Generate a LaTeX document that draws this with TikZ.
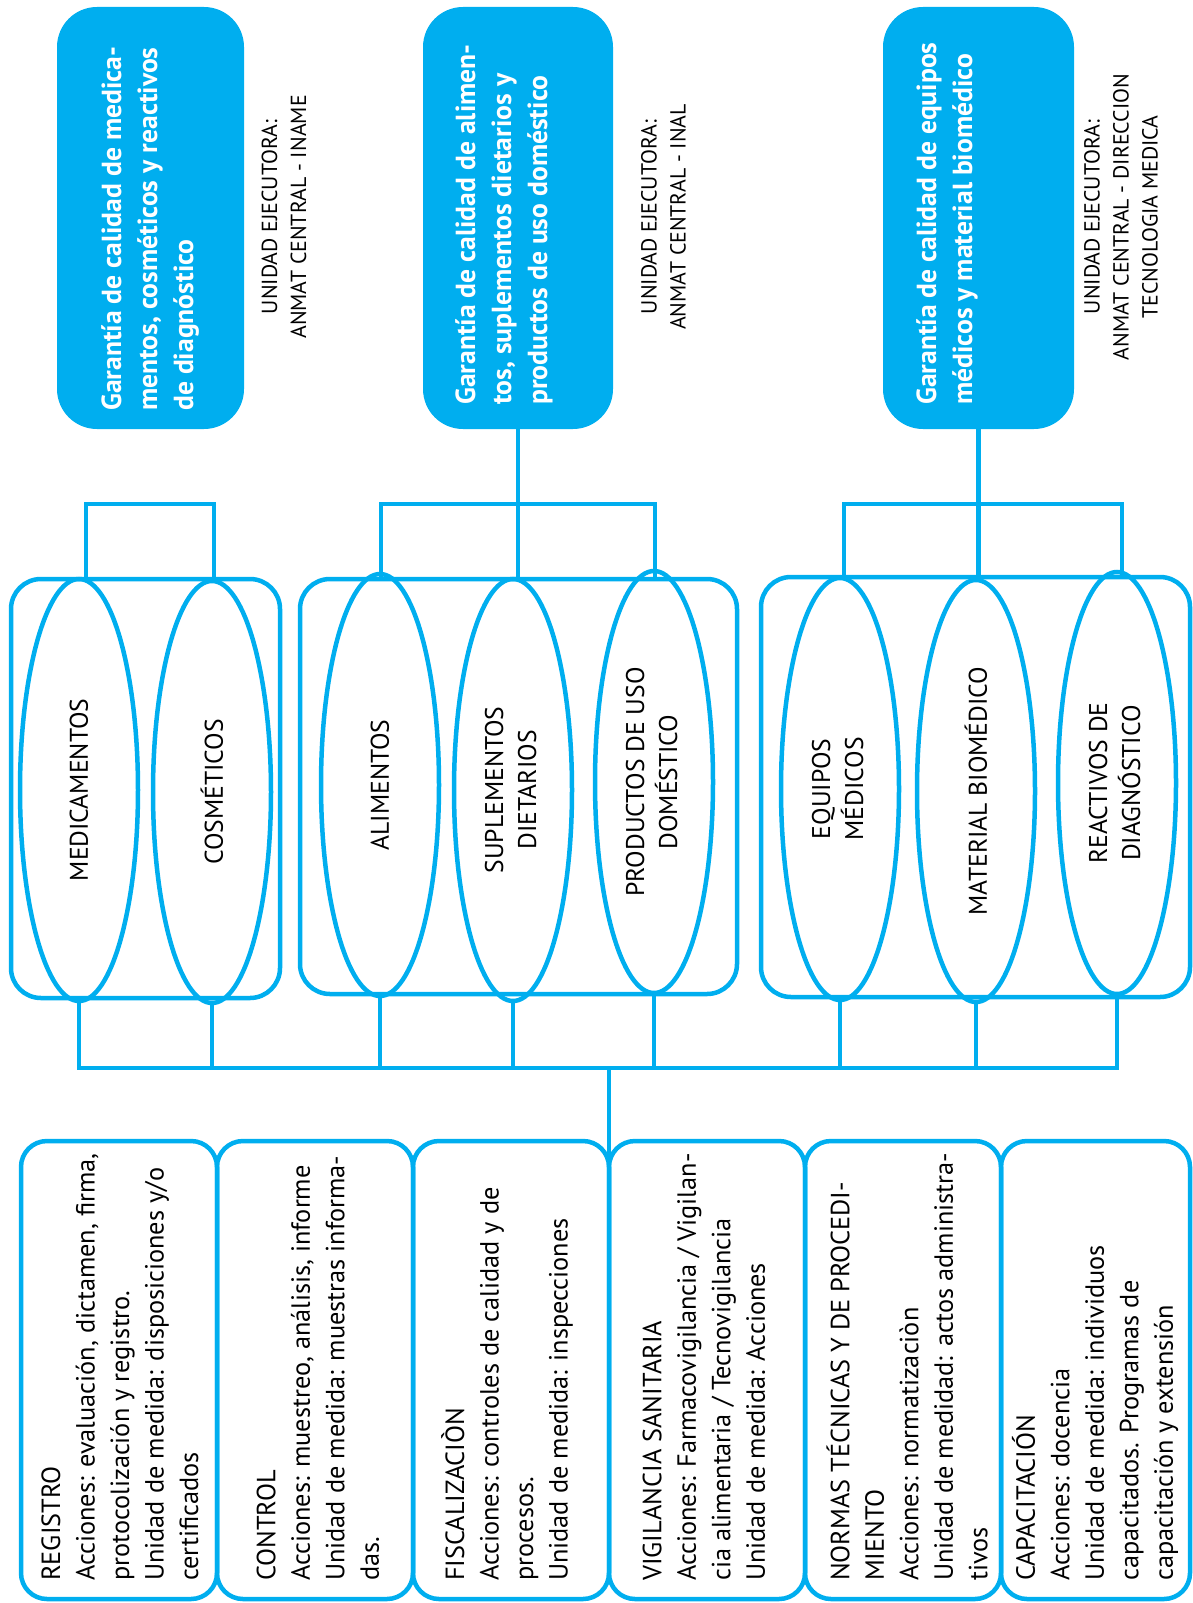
\documentclass[tikz,border=0pt]{standalone}
\usepackage{fontspec}
\setmainfont{PT Sans}
\usetikzlibrary{shapes.geometric,calc}
\definecolor{cy}{RGB}{0,174,239}
\newcommand\btfont{\fontsize{26.3}{34.5}\selectfont}
\newcommand\elfont{\fontsize{25.6}{33}\selectfont}
\newcommand\ttfont{\bfseries\fontsize{27.6}{36}\selectfont}
\newcommand\unfont{\fontsize{21.8}{29}\selectfont}
\begin{document}
\begin{tikzpicture}[x=1pt,y=-1pt,
  ln/.style={draw=cy, line width=4.5pt},
  topbox/.style={fill=cy, draw=none, rounded corners=40pt, minimum height=422pt, inner sep=0pt, outer sep=0pt},
  grp/.style={draw=cy, line width=4.5pt, rounded corners=30pt, inner sep=0pt, outer sep=0pt},
  ell/.style={ellipse, draw=cy, line width=4.5pt, minimum width=118pt, minimum height=422pt, inner sep=0pt, outer sep=0pt, font=\elfont},
  botbox/.style={draw=cy, line width=4.5pt, rounded corners=26pt, minimum height=458pt, inner sep=0pt, outer sep=0pt},
  bottxt/.style={rotate=90, anchor=west, align=left, inner sep=0pt, font=\btfont},
  title/.style={rotate=90, anchor=north west, align=left, inner sep=0pt, text=white, font=\ttfont},
  unit/.style={rotate=90, align=center, inner sep=0pt, font=\unfont}
]
\useasboundingbox (0,0) rectangle (1193,1603);

% top boxes
\node[topbox, minimum width=187pt] (bx1) at (150.5,218) {};
\node[topbox, minimum width=190pt] (bx2) at (518,218) {};
\node[topbox, minimum width=191pt] (bx3) at (978.5,218) {};
\node[title] (tt1) at (101,411) {Garantía de calidad de medica-\\mentos, cosméticos y reactivos\\de diagnóstico};
\node[title] (tt2) at (455,405) {Garantía de calidad de alimen-\\tos, suplementos dietarios y\\productos de uso doméstico};
\node[title] (tt3) at (916,405) {Garantía de calidad de equipos\\médicos y material biomédico};
\node[unit] (u1) at (284,217) {UNIDAD EJECUTORA:\\ANMAT CENTRAL - INAME};
\node[unit] (u2) at (663.5,217) {UNIDAD EJECUTORA:\\ANMAT CENTRAL - INAL};
\node[unit] (u3) at (1121,217) {UNIDAD EJECUTORA:\\ANMAT CENTRAL - DIRECCION\\TECNOLOGIA MEDICA};

% groups
\node[grp, minimum width=269pt, minimum height=419pt] (g1) at (145.5,788.5) {};
\node[grp, minimum width=437pt, minimum height=415pt] (g2) at (518.5,786.5) {};
\node[grp, minimum width=429pt, minimum height=420pt] (g3) at (975.5,787) {};

% ellipses
\node[ell] (med) at (79,790) {\rotatebox{90}{MEDICAMENTOS}};
\node[ell] (cos) at (212,792) {\rotatebox{90}{COSMÉTICOS}};
\node[ell] (ali) at (380,785) {\rotatebox{90}{ALIMENTOS}};
\node[ell] (sup) at (513,790) {\rotatebox{90}{\begin{tabular}{@{}c@{}}SUPLEMENTOS\\DIETARIOS\end{tabular}}};
\node[ell] (prod) at (654,782) {\rotatebox{90}{\begin{tabular}{@{}c@{}}PRODUCTOS DE USO\\DOMÉSTICO\end{tabular}}};
\node[ell] (eq) at (840,789) {\rotatebox{90}{\begin{tabular}{@{}c@{}}EQUIPOS\\MÉDICOS\end{tabular}}};
\node[ell] (mat) at (976,791) {\rotatebox{90}{MATERIAL BIOMÉDICO}};
\node[ell] (rea) at (1117,783) {\rotatebox{90}{\begin{tabular}{@{}c@{}}REACTIVOS DE\\DIAGNÓSTICO\end{tabular}}};

% brackets
\coordinate (k1a) at (86,504);  \coordinate (k1b) at (214,504);
\coordinate (k2a) at (381,504); \coordinate (k2b) at (655,504);
\coordinate (k3a) at (844,504); \coordinate (k3b) at (1122,504);
\draw[ln] (k1a |- g1.north) -- (k1a) -- (k1b) -- (k1b |- g1.north);
\draw[ln] (k2a |- g2.north) -- (k2a) -- (k2b) -- (k2b |- g2.north);
\draw[ln] (k3a |- g3.north) -- (k3a) -- (k3b) -- (k3b |- g3.north);
\draw[ln] (bx2.south) -- (bx2.south |- g2.north);
\draw[ln] (bx3.south) -- (bx3.south |- g3.north);

% bus
\coordinate (bus) at (0,1068);
\draw[ln] (med.south) -- (med.south |- bus) -- (rea.south |- bus) -- (rea.south);
\foreach \e in {cos,ali,sup,prod,eq,mat} \draw[ln] (\e.south) -- (\e.south |- bus);

% bottom boxes
\node[botbox, minimum width=196pt] (b1) at (119,1370) {};
\node[botbox, minimum width=196pt] (b2) at (315,1370) {};
\node[botbox, minimum width=196pt] (b3) at (511,1370) {};
\node[botbox, minimum width=196pt] (b4) at (707,1370) {};
\node[botbox, minimum width=196pt] (b5) at (903,1370) {};
\node[botbox, minimum width=189pt] (b6) at (1095.5,1370) {};
\draw[ln] (bus -| b3.east) -- (b3.east);

\node[bottxt] (t1) at (120,1581) {REGISTRO\\Acciones: evaluación, dictamen, firma,\\protocolización y registro.\\Unidad de medida: disposiciones y/o\\certificados};
\node[bottxt] (t2) at (318,1581) {CONTROL\\Acciones: muestreo, análisis, informe\\Unidad de medida: muestras informa-\\das.};
\node[bottxt] (t3) at (507,1581) {FISCALIZACIÒN\\Acciones: controles de calidad y de\\procesos.\\Unidad de medida: inspecciones};
\node[bottxt] (t4) at (704,1581) {VIGILANCIA SANITARIA\\Acciones: Farmacovigilancia / Vigilan-\\cia alimentaria / Tecnovigilancia\\Unidad de medida: Acciones};
\node[bottxt] (t5) at (907,1581) {NORMAS TÉCNICAS Y DE PROCEDI-\\MIENTO\\Acciones: normatizaciòn\\Unidad de medidad: actos administra-\\tivos};
\node[bottxt] (t6) at (1095,1581) {CAPACITACIÓN\\Acciones: docencia\\Unidad de medida: individuos\\capacitados. Programas de\\capacitación y extensión};
\end{tikzpicture}
\end{document}
